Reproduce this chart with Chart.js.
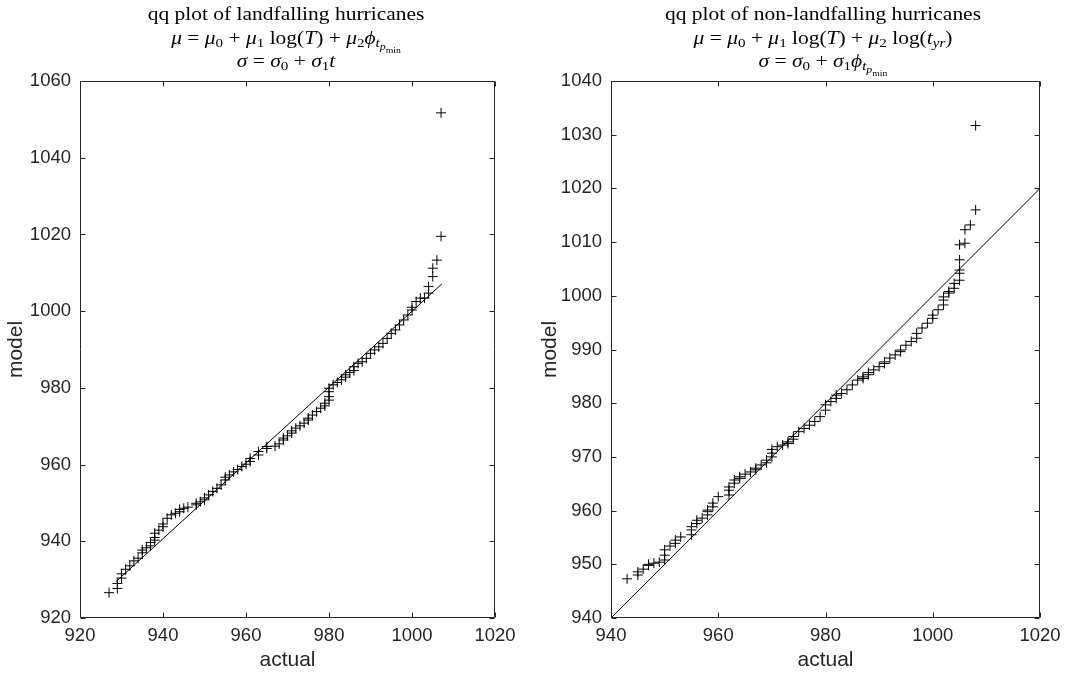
<!DOCTYPE html>
<html><head><meta charset="utf-8">
<script src="https://cdn.jsdelivr.net/npm/chart.js@4.4.1/dist/chart.umd.min.js"></script>
<style>
html,body{margin:0;padding:0;background:#fff;}
#wrap{position:relative;width:1068px;height:673px;background:#fff;}
.c{position:absolute;top:0;width:534px;height:673px;}
</style></head><body>
<div id="wrap">
<div class="c" style="left:0"><canvas id="c1" width="534" height="673"></canvas></div>
<div class="c" style="left:534px"><canvas id="c2" width="534" height="673"></canvas></div>
</div>
<script>
// ---- Data: landfalling hurricanes (sorted actual vs sorted model) ----
const landActual = [927,929,929,930,930,931,932,933,934,935,935,936,937,937,938,938,938,939,940,940,
  941,942,943,944,944,945,946,948,948,949,950,950,951,952,953,954,955,955,956,957,
  958,959,960,961,961,963,963,965,965,967,968,969,969,970,971,971,972,973,974,975,
  975,976,977,978,979,979,980,980,980,980,981,982,983,984,984,985,986,986,987,988,
  989,990,991,992,993,994,995,996,997,998,999,1000,1000,1001,1002,1003,1004,1004,1005,1005,
  1006,1007,1007];
const landModel = [926.6,927.7,929.0,930.4,931.5,932.7,933.6,934.9,935.6,937.0,937.7,938.3,938.8,939.7,940.3,941.0,942.1,942.9,943.8,944.5,
  946.0,946.9,947.3,947.7,948.3,948.6,948.9,949.5,949.9,950.3,950.8,951.3,952.1,953.0,953.8,954.7,956.0,956.7,957.3,958.1,
  958.7,959.5,960.1,960.8,961.6,962.5,963.4,964.2,964.7,964.8,965.4,966.4,966.9,967.5,968.2,968.8,969.5,970.1,970.8,971.6,
  972.1,972.9,973.8,974.7,975.3,976.0,976.8,977.7,979.0,979.9,980.8,981.4,982.1,982.8,983.4,984.0,984.5,985.5,986.4,986.8,
  987.7,989.0,989.9,990.7,991.6,992.9,994.2,995.1,996.4,997.7,999.0,1000.3,1001.0,1002.5,1003.4,1003.4,1004.7,1006.4,1009.0,1011.2,
  1013.3,1019.5,1051.7];
const landLineX = [928.7, 1007.2];
const landLineY = [929.5, 1007.1];

// ---- Data: non-landfalling hurricanes ----
const nonActual = [943,945,945,946,947,947,948,949,950,950,950,951,952,952,953,955,955,955,956,956,
  957,958,958,958,959,959,960,962,962,962,963,963,964,964,965,966,967,967,968,969,
  969,970,970,970,971,972,973,973,974,974,975,976,977,978,979,980,980,981,982,982,
  983,984,985,986,987,987,988,988,989,990,991,991,992,993,994,994,995,996,997,997,
  998,999,1000,1000,1001,1002,1002,1002,1003,1003,1004,1004,1005,1005,1005,1005,1005,1006,1006,1007,
  1008,1008];
const nonModel = [947.3,948.0,948.6,949.1,949.8,950.0,950.2,950.4,950.8,951.7,952.7,953.4,953.9,954.5,955.1,955.5,956.4,957.0,957.6,958.2,
  958.6,959.2,959.8,960.1,960.7,961.4,962.6,962.9,963.8,964.4,965.1,965.7,966.0,966.3,966.8,967.2,967.6,967.9,968.5,968.9,
  969.4,970.0,970.7,971.4,971.9,972.2,972.5,972.8,973.3,973.8,974.7,975.3,975.9,976.6,977.5,978.7,979.7,980.3,980.9,981.5,
  981.8,982.5,983.4,984.3,984.6,984.9,985.3,985.7,986.2,986.8,987.4,987.7,988.4,989.0,989.6,989.9,990.8,991.5,992.1,993.0,
  994.0,994.9,995.8,996.4,997.4,998.3,999.2,999.8,1000.5,1000.8,1001.4,1002.3,1002.9,1004.2,1004.8,1006.7,1009.5,1009.8,1012.3,1013.2,
  1016.0,1031.7];
const nonLineX = [940, 1020];
const nonLineY = [940, 1020];

// tick settings
const landXTicks = [920, 1020, 20];
const landYTicks = [920, 1060, 20];
const nonXTicks = [940, 1020, 20];
const nonYTicks = [940, 1040, 10];

const toPts = (xs, ys) => xs.map((v, i) => ({x: v, y: ys[i]}));

const AX = '#262626';
const TICKFONT = {family: '"Liberation Sans", Arial, sans-serif', size: 18.5};
const LABELFONT = {family: '"Liberation Sans", Arial, sans-serif', size: 21};

const boxTicks = {
  id: 'boxTicks',
  afterDatasetsDraw(chart) {
    const {ctx, chartArea: a, scales: {x, y}} = chart;
    ctx.save();
    ctx.strokeStyle = AX; ctx.lineWidth = 1;
    const L = Math.round(a.left) + 0.5, R = Math.round(a.right) - 0.5;
    const T = Math.round(a.top) + 0.5, B = Math.round(a.bottom) - 0.5;
    const len = 5;
    ctx.beginPath();
    ctx.rect(L, T, R - L, B - T);
    x.ticks.forEach(t => {
      const px = Math.round(x.getPixelForValue(t.value)) + 0.5;
      ctx.moveTo(px, B); ctx.lineTo(px, B - len);
      ctx.moveTo(px, T); ctx.lineTo(px, T + len);
    });
    y.ticks.forEach(t => {
      const py = Math.round(y.getPixelForValue(t.value)) + 0.5;
      ctx.moveTo(L, py); ctx.lineTo(L + len, py);
      ctx.moveTo(R, py); ctx.lineTo(R - len, py);
    });
    ctx.stroke();
    ctx.restore();
  }
};

const mathTitle = {
  id: 'mathTitle',
  afterDraw(chart, args, opts) {
    const ctx = chart.ctx;
    const base = opts.size;
    const sx = opts.stretch;
    const styles = {
      r: {s: 1, dy: 0, it: false}, i: {s: 1, dy: 0, it: true},
      r1: {s: 0.7, dy: 0.2, it: false}, i1: {s: 0.7, dy: 0.2, it: true},
      i2: {s: 0.55, dy: 0.36, it: true}, r3: {s: 0.45, dy: 0.48, it: false}
    };
    const fontFor = st => (st.it ? 'italic ' : '') + (base * st.s).toFixed(1) + 'px ' + opts.family;
    ctx.save();
    ctx.fillStyle = '#000'; ctx.textBaseline = 'alphabetic'; ctx.textAlign = 'left';
    opts.lines.forEach((runs, i) => {
      let w = 0;
      runs.forEach(([t, k]) => { ctx.font = fontFor(styles[k]); w += ctx.measureText(t).width; });
      const yb = opts.baselines[i];
      ctx.save();
      ctx.translate(opts.cx - w * sx / 2, 0);
      ctx.scale(sx, 1);
      let x = 0;
      runs.forEach(([t, k]) => {
        const st = styles[k];
        ctx.font = fontFor(st);
        ctx.fillText(t, x, yb + st.dy * base);
        x += ctx.measureText(t).width;
      });
      ctx.restore();
    });
    ctx.restore();
  }
};

function makeChart(id, c) {
  return new Chart(document.getElementById(id), {
    type: 'scatter',
    data: {datasets: [
      {data: c.points, pointStyle: 'cross', pointRadius: 5, pointHoverRadius: 5,
       borderColor: '#000', backgroundColor: '#000', borderWidth: 1, order: 1},
      {type: 'line', data: c.line, borderColor: '#000', borderWidth: 1, pointRadius: 0,
       fill: false, tension: 0, order: 2}
    ]},
    options: {
      responsive: false, animation: false, events: [],
      layout: {padding: {left: 0, right: c.padRight, top: 81, bottom: 0}},
      plugins: {
        legend: {display: false}, tooltip: {enabled: false}, title: {display: false},
        mathTitle: {lines: c.title, cx: c.titleX, baselines: [19.5, 43.5, 66.5], size: 19, stretch: 1.13,
                    family: '"Liberation Serif", "Times New Roman", serif'}
      },
      scales: {
        x: {
          type: 'linear', min: c.xt[0], max: c.xt[1],
          ticks: {stepSize: c.xt[2], color: AX, font: TICKFONT, padding: 7, maxRotation: 0,
                  callback: v => String(v)},
          grid: {display: false, drawTicks: false}, border: {display: false},
          title: {display: true, text: 'actual', color: AX, font: LABELFONT, padding: {top: 0, bottom: 0}},
          afterFit(s) { s.height = 55; s.paddingLeft = 0; s.paddingRight = 0; }
        },
        y: {
          type: 'linear', min: c.yt[0], max: c.yt[1],
          ticks: {stepSize: c.yt[2], color: AX, font: TICKFONT, padding: 9, callback: v => String(v)},
          grid: {display: false, drawTicks: false}, border: {display: false},
          title: {display: true, text: 'model', color: AX, font: LABELFONT, padding: {top: 4, bottom: 0}},
          afterFit(s) { s.width = c.yW; s.paddingTop = 0; s.paddingBottom = 0; }
        }
      }
    },
    plugins: [boxTicks, mathTitle]
  });
}

makeChart('c1', {
  points: toPts(landActual, landModel),
  line: toPts(landLineX, landLineY),
  xt: landXTicks, yt: landYTicks, yW: 80, padRight: 39, titleX: 286,
  title: [
    [['qq plot of landfalling hurricanes', 'r']],
    [['μ', 'i'], [' = ', 'r'], ['μ', 'i'], ['0', 'r1'], [' + ', 'r'], ['μ', 'i'], ['1', 'r1'],
     [' log(', 'r'], ['T', 'i'], [') + ', 'r'], ['μ', 'i'], ['2', 'r1'], ['ϕ', 'i'], ['t', 'i1'], ['p', 'i2'], ['min', 'r3']],
    [['σ', 'i'], [' = ', 'r'], ['σ', 'i'], ['0', 'r1'], [' + ', 'r'], ['σ', 'i'], ['1', 'r1'], ['t', 'i']]
  ]
});

makeChart('c2', {
  points: toPts(nonActual, nonModel),
  line: toPts(nonLineX, nonLineY),
  xt: nonXTicks, yt: nonYTicks, yW: 77, padRight: 28, titleX: 289,
  title: [
    [['qq plot of non-landfalling hurricanes', 'r']],
    [['μ', 'i'], [' = ', 'r'], ['μ', 'i'], ['0', 'r1'], [' + ', 'r'], ['μ', 'i'], ['1', 'r1'],
     [' log(', 'r'], ['T', 'i'], [') + ', 'r'], ['μ', 'i'], ['2', 'r1'], [' log(', 'r'], ['t', 'i'], ['yr', 'i1'], [')', 'r']],
    [['σ', 'i'], [' = ', 'r'], ['σ', 'i'], ['0', 'r1'], [' + ', 'r'], ['σ', 'i'], ['1', 'r1'], ['ϕ', 'i'], ['t', 'i1'], ['p', 'i2'], ['min', 'r3']]
  ]
});
</script>
</body></html>
